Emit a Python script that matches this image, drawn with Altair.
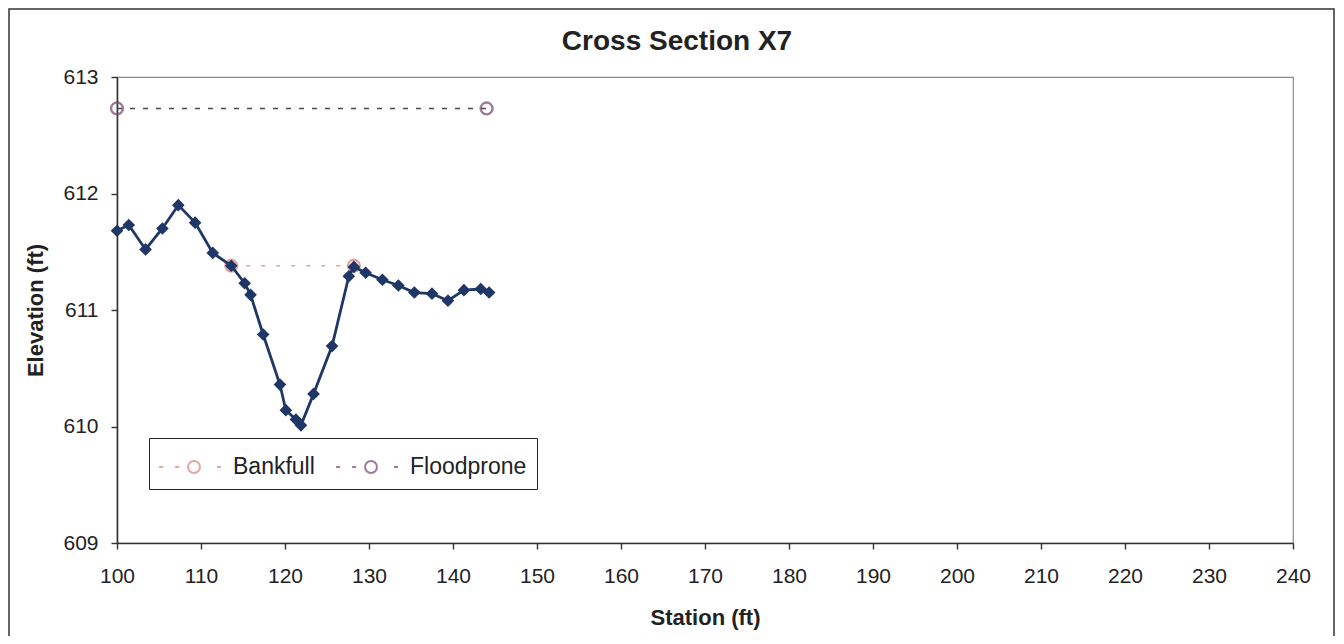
import altair as alt
import pandas as pd

# Surveyed cross-section
station = [100.0, 101.4, 103.4, 105.4, 107.3, 109.3, 111.4, 113.6, 115.2, 115.9,
           117.4, 119.4, 120.1, 121.3, 121.9, 123.4, 125.6, 127.6, 128.2, 129.6,
           131.6, 133.5, 135.4, 137.5, 139.4, 141.3, 143.3, 144.3]
elevation = [611.68, 611.73, 611.52, 611.70, 611.90, 611.75, 611.49, 611.38, 611.23, 611.13,
             610.79, 610.36, 610.14, 610.06, 610.01, 610.28, 610.69, 611.29, 611.37, 611.32,
             611.26, 611.21, 611.15, 611.14, 611.08, 611.17, 611.18, 611.15]

# Reference lines
bankfull_station = [113.6, 128.2]
bankfull_elev = [611.38, 611.38]
flood_station = [100.0, 144.0]
flood_elev = [612.73, 612.73]

series_names = ["Bankfull", "Floodprone"]

FONT = "Liberation Sans"
TXT = "#222222"

xs = pd.DataFrame({"station": station, "elevation": elevation})
ref = pd.DataFrame({
    "series": ["Bankfull"] * len(bankfull_station) + ["Floodprone"] * len(flood_station),
    "station": bankfull_station + flood_station,
    "elevation": bankfull_elev + flood_elev,
})

x_enc = alt.X("station:Q", title="Station (ft)",
              scale=alt.Scale(domain=[100, 240], nice=False, zero=False),
              axis=alt.Axis(values=list(range(100, 241, 10)), grid=False, labelFlush=False))
y_enc = alt.Y("elevation:Q", title="Elevation (ft)",
              scale=alt.Scale(domain=[609, 613], nice=False, zero=False),
              axis=alt.Axis(values=[609, 610, 611, 612, 613], grid=False, labelFlush=False))

LEG_PATH = ("M-1.94,0L-1.72,0M-1.05,0L-0.83,0M1.28,0L1.5,0"
            "M-0.33,0A0.33,0.33 0 1,1 0.33,0A0.33,0.33 0 1,1 -0.33,0Z")

bank_line = alt.Chart(ref).transform_filter(alt.datum.series == "Bankfull").mark_line(
    color="#e8a0a0", strokeWidth=1.6, strokeDash=[4, 11]).encode(x=x_enc, y=y_enc)
flood_line = alt.Chart(ref).transform_filter(alt.datum.series == "Floodprone").mark_line(
    color="#4a4a4a", strokeWidth=1.6, strokeDash=[5, 8]).encode(x=x_enc, y=y_enc)

ref_points = alt.Chart(ref).mark_point(shape="circle", filled=False, size=140, strokeWidth=2.4).encode(
    x=x_enc, y=y_enc,
    stroke=alt.Stroke("series:N",
                      scale=alt.Scale(domain=series_names, range=["#d98080", "#74436a"]),
                      legend=alt.Legend(title=None, orient="none", legendX=32, legendY=361,
                                        direction="horizontal",
                                        symbolType=LEG_PATH, symbolSize=1296,
                                        symbolStrokeWidth=2, symbolFillColor="white",
                                        symbolOffset=16, labelOffset=20, columnPadding=17,
                                        labelFont=FONT, labelFontSize=23, labelColor=TXT,
                                        labelBaseline="middle",
                                        padding=10, strokeColor="#222222", fillColor="white")),
)

main_line = alt.Chart(xs).mark_line(color="#1f3766", strokeWidth=2.8).encode(x=x_enc, y=y_enc)
main_pts = alt.Chart(xs).mark_point(shape="diamond", filled=True, size=160, color="#1f3766", opacity=1).encode(
    x=x_enc, y=y_enc)

frame = alt.Chart(pd.DataFrame({"a": [0]})).mark_rect(fill=None, stroke="#333333", strokeWidth=1.5).encode(
    x=alt.value(-108), x2=alt.value(1176 + 41), y=alt.value(-68), y2=alt.value(466 + 130))

chart = alt.layer(frame, bank_line, flood_line, ref_points, main_line, main_pts).properties(
    width=1176, height=466,
    padding={"left": 109, "top": 69, "right": 43, "bottom": 93},
    autosize=alt.AutoSizeParams(type="none"),
    title=alt.TitleParams("Cross Section X7", font=FONT, fontSize=28, fontWeight="bold",
                          color=TXT, dx=-28, offset=-70, baseline="alphabetic",
                          frame="group", anchor="middle"),
).configure_view(stroke="#8a8a8a", strokeWidth=1.2).configure_axis(
    labelFont=FONT, labelFontSize=21, labelColor=TXT,
    titleFont=FONT, titleFontSize=22, titleFontWeight="bold", titleColor=TXT,
    domainColor="#333333", domainWidth=1.6, tickColor="#333333", tickWidth=1.4, tickSize=6,
).configure_axisY(labelPadding=13, titlePadding=15).configure_axisX(labelPadding=16, titlePadding=21)

chart.save("out.html", embed_options={"renderer": "svg", "actions": False})
